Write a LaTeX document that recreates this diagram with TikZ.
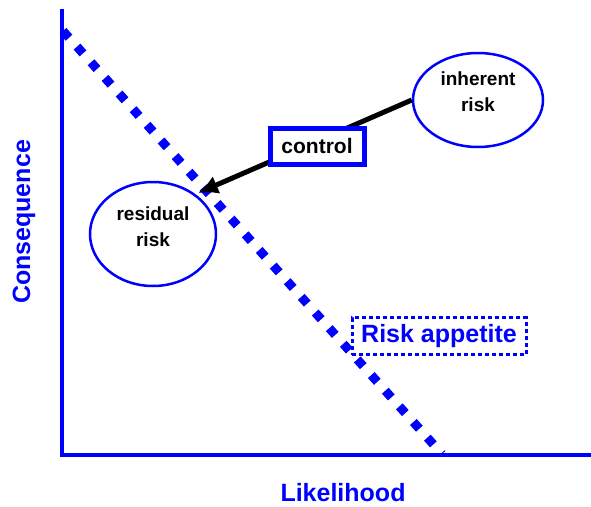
\documentclass[tikz,border=0pt]{standalone}
\usepackage{fontspec}
\setmainfont{Liberation Sans}
\usetikzlibrary{shapes.geometric,arrows.meta}
\definecolor{riskblue}{RGB}{0,0,255}
\tikzstyle{axis}=[draw=riskblue,line width=4pt]
\tikzstyle{riskoval}=[ellipse,draw=riskblue,line width=2.5pt,
                      inner sep=0pt]
\tikzstyle{ovaltext}=[align=center,font=\fontsize{19}{26}\selectfont\bfseries]
\tikzstyle{appetite}=[draw=riskblue,line width=9pt,
                      dash pattern=on 9pt off 12pt]
\tikzstyle{bluelabel}=[text=riskblue,inner sep=0pt,
                       font=\fontsize{25}{30}\selectfont\bfseries]

\begin{document}
\begin{tikzpicture}[x=1pt,y=-1pt]
    \useasboundingbox (0,0) rectangle (591,506);
    % appetite line
    \coordinate (a1) at (63,31);
    \coordinate (a2) at (442,454);
    \draw[appetite] (a1) -- (a2);
    % axes
    \coordinate (top) at (62,9);
    \coordinate (origin) at (62,455);
    \coordinate (right) at (591,455);
    \draw[axis] (top) -- (origin) -- (right);
    \node (ylab) at (24,222) [rotate=90,bluelabel]{Consequence};
    \node (xlab) at (343,493) [bluelabel]{Likelihood};
    \node (app) at (439,336) [draw=riskblue,line width=3pt,
        dash pattern=on 4pt off 3pt,fill=white,bluelabel,
        minimum width=174pt,minimum height=37pt]{Risk appetite};
    % risks
    \node (inh) at (478,100) [riskoval,minimum width=130pt,
        minimum height=94pt]{};
    \node (inhtxt) at (478,92) [ovaltext]{inherent\\risk};
    \node (res) at (153,234) [riskoval,minimum width=126pt,
        minimum height=104pt]{};
    \node (restxt) at (153,227) [ovaltext]{residual\\risk};
    % control
    \coordinate (tip) at (198,193);
    \draw[line width=5pt,-{Latex[length=20pt,width=19pt]}] (inh.west) -- (tip);
    \node (ctrl) at (317,146) [draw=riskblue,line width=5pt,fill=white,
        minimum width=94pt,minimum height=36pt,inner sep=0pt,
        font=\fontsize{21}{24}\selectfont\bfseries]{control};
\end{tikzpicture}
\end{document}
